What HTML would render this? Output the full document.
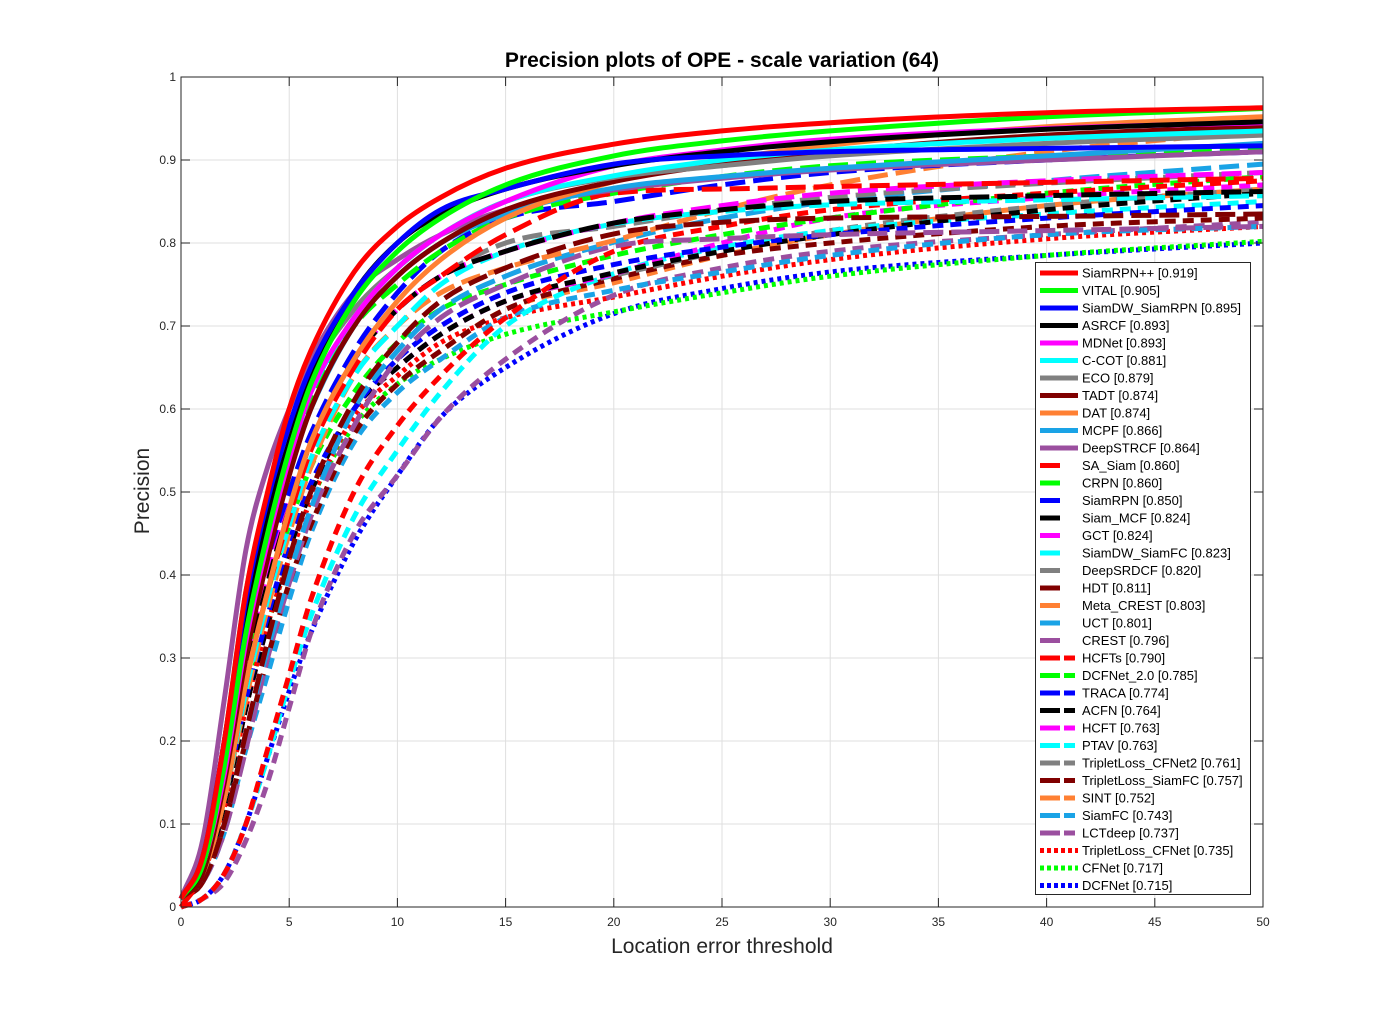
<!DOCTYPE html>
<html><head><meta charset="utf-8"><style>
html,body{margin:0;padding:0;background:#fff;}
svg{display:block;font-family:"Liberation Sans",Arial,sans-serif;}
</style></head><body>
<svg id="chart" width="1397" height="1019" viewBox="0 0 1397 1019">
<rect x="0" y="0" width="1397" height="1019" fill="#fff"/>
<rect x="181" y="77" width="1082" height="830" fill="#fff"/>
<g id="grid"></g>
<g id="series"></g>
<rect x="181" y="77" width="1082" height="830" fill="none" stroke="#262626" stroke-width="1"/>
<g id="ticks"></g>
<text x="722" y="67" text-anchor="middle" font-size="21" font-weight="bold" fill="#000">Precision plots of OPE - scale variation (64)</text>
<text x="722" y="953" text-anchor="middle" font-size="21" fill="#262626">Location error threshold</text>
<text transform="translate(149,491) rotate(-90)" text-anchor="middle" font-size="21" fill="#262626">Precision</text>
<g id="legend"></g>
</svg>
<script>
const thresholds=[0,1,2,3,4,5,6,8,10,12,15,20,25,30,40,50];
const xTicks=[0,5,10,15,20,25,30,35,40,45,50];
const yTicks=[0,0.1,0.2,0.3,0.4,0.5,0.6,0.7,0.8,0.9,1];
const yTickLabels=["0","0.1","0.2","0.3","0.4","0.5","0.6","0.7","0.8","0.9","1"];
const names=["SiamRPN++ [0.919]","VITAL [0.905]","SiamDW_SiamRPN [0.895]","ASRCF [0.893]","MDNet [0.893]","C-COT [0.881]","ECO [0.879]","TADT [0.874]","DAT [0.874]","MCPF [0.866]","DeepSTRCF [0.864]","SA_Siam [0.860]","CRPN [0.860]","SiamRPN [0.850]","Siam_MCF [0.824]","GCT [0.824]","SiamDW_SiamFC [0.823]","DeepSRDCF [0.820]","HDT [0.811]","Meta_CREST [0.803]","UCT [0.801]","CREST [0.796]","HCFTs [0.790]","DCFNet_2.0 [0.785]","TRACA [0.774]","ACFN [0.764]","HCFT [0.763]","PTAV [0.763]","TripletLoss_CFNet2 [0.761]","TripletLoss_SiamFC [0.757]","SINT [0.752]","SiamFC [0.743]","LCTdeep [0.737]","TripletLoss_CFNet [0.735]","CFNet [0.717]","DCFNet [0.715]"];
const s01=[.01,.06,.2,.38,.5,.6,.67,.765,.82,.855,.89,.919,.935,.945,.957,.963];
const s02=[.01,.05,.17,.33,.45,.55,.63,.73,.79,.83,.87,.905,.923,.935,.952,.962];
const s03=[.01,.06,.2,.37,.49,.58,.65,.74,.8,.84,.865,.895,.905,.91,.914,.917];
const s04=[.01,.05,.18,.35,.47,.56,.64,.74,.8,.835,.865,.893,.91,.922,.937,.946];
const s05=[.01,.05,.16,.32,.44,.54,.62,.71,.77,.81,.85,.893,.912,.925,.938,.945];
const s06=[.01,.05,.17,.33,.45,.55,.62,.71,.77,.81,.85,.881,.9,.912,.926,.935];
const s07=[.01,.06,.2,.38,.49,.57,.64,.72,.77,.81,.85,.879,.893,.905,.92,.93];
const s08=[.01,.04,.15,.3,.42,.52,.6,.7,.76,.8,.84,.874,.895,.91,.93,.94];
const s09=[.01,.04,.13,.27,.38,.48,.56,.66,.73,.78,.83,.874,.9,.918,.94,.952];
const s10=[.01,.05,.16,.31,.43,.53,.6,.7,.76,.8,.835,.866,.88,.89,.905,.92];
const s11=[.01,.08,.25,.43,.53,.6,.66,.74,.78,.81,.84,.864,.878,.888,.9,.91];
const s12=[0,.04,.13,.27,.38,.47,.55,.65,.72,.76,.81,.86,.865,.868,.873,.878];
const s13=[.01,.05,.17,.33,.45,.54,.61,.7,.75,.79,.83,.86,.88,.893,.905,.915];
const s14=[.01,.05,.16,.31,.42,.5,.57,.67,.74,.79,.83,.85,.87,.885,.9,.91];
const s15=[.01,.04,.14,.28,.39,.48,.56,.66,.72,.76,.79,.824,.84,.85,.857,.862];
const s16=[.01,.05,.15,.29,.4,.49,.56,.66,.72,.76,.79,.824,.845,.86,.875,.885];
const s17=[.01,.04,.13,.26,.37,.46,.54,.64,.7,.75,.79,.823,.838,.846,.852,.857];
const s18=[.01,.05,.17,.32,.42,.5,.57,.66,.72,.76,.8,.82,.84,.855,.872,.885];
const s19=[.01,.03,.1,.21,.32,.42,.5,.61,.68,.73,.77,.811,.825,.83,.832,.835];
const s20=[.01,.04,.13,.25,.36,.45,.53,.64,.7,.74,.77,.803,.84,.87,.91,.935];
const s21=[.01,.03,.1,.21,.31,.4,.48,.6,.67,.72,.76,.801,.83,.85,.875,.895];
const s22=[.01,.03,.09,.19,.3,.39,.47,.58,.66,.71,.75,.796,.805,.81,.815,.82];
const s23=[0,.01,.04,.1,.19,.28,.37,.5,.58,.64,.71,.79,.82,.84,.86,.875];
const s24=[.01,.05,.15,.28,.38,.46,.53,.62,.68,.72,.75,.785,.81,.83,.86,.88];
const s25=[.01,.04,.13,.25,.35,.44,.51,.6,.66,.7,.74,.774,.795,.81,.83,.845];
const s26=[.01,.04,.12,.24,.34,.43,.5,.6,.65,.69,.73,.764,.79,.81,.84,.86];
const s27=[.01,.04,.12,.24,.34,.43,.5,.6,.65,.69,.73,.763,.8,.83,.855,.87];
const s28=[0,.01,.04,.1,.18,.27,.35,.47,.55,.62,.7,.763,.795,.815,.835,.85];
const s29=[.01,.04,.12,.24,.34,.43,.5,.6,.65,.69,.73,.761,.79,.815,.845,.865];
const s30=[.01,.03,.1,.2,.3,.39,.46,.57,.63,.67,.72,.757,.785,.8,.82,.83];
const s31=[.01,.03,.1,.2,.3,.39,.46,.57,.63,.67,.72,.752,.785,.81,.845,.865];
const s32=[.01,.03,.09,.19,.28,.37,.45,.56,.62,.66,.71,.743,.765,.785,.81,.82];
const s33=[0,.01,.03,.08,.15,.24,.33,.45,.52,.59,.66,.737,.77,.79,.81,.825];
const s34=[.01,.04,.12,.24,.34,.42,.49,.59,.64,.68,.71,.735,.76,.78,.805,.82];
const s35=[.01,.04,.13,.25,.34,.42,.49,.58,.63,.66,.69,.717,.74,.76,.785,.802];
const s36=[0,.01,.04,.1,.18,.26,.33,.44,.52,.59,.65,.715,.745,.765,.785,.80];
const seriesValues=[s01,s02,s03,s04,s05,s06,s07,s08,s09,s10,s11,s12,s13,s14,s15,s16,s17,s18,s19,s20,s21,s22,s23,s24,s25,s26,s27,s28,s29,s30,s31,s32,s33,s34,s35,s36];

const palette=["#ff0000","#00ff00","#0000ff","#000000","#ff00ff","#00ffff","#808080","#800000","#ff8033","#1aa3e6","#9b4f9f"];
const X0=181,X1=1263,Y0=907,Y1=77;
const xs=v=>X0+(v/50)*(X1-X0);
const ys=v=>Y0-v*(Y0-Y1);
const NS="http://www.w3.org/2000/svg";
function mk(tag,attrs,parent){const e=document.createElementNS(NS,tag);for(const k in attrs)e.setAttribute(k,attrs[k]);parent.appendChild(e);return e;}

const grid=document.getElementById('grid'),ticks=document.getElementById('ticks');
xTicks.forEach((t,i)=>{
  const gl=mk('line',{x1:xs(t),x2:xs(t),y1:Y1,y2:Y0,stroke:'#dfdfdf','stroke-width':1},grid);
  
  
  const tk=mk('path',{d:`M${xs(t)},${Y0}v-9M${xs(t)},${Y1}v9`,stroke:'#262626','stroke-width':1},ticks);
  
  
  const tl=mk('text',{x:xs(t),y:926,'text-anchor':'middle','font-size':12,fill:'#262626'},ticks);
  tl.textContent=String(t);
  
  
});
yTicks.forEach((t,i)=>{
  const gl=mk('line',{x1:X0,x2:X1,y1:ys(t),y2:ys(t),stroke:'#dfdfdf','stroke-width':1},grid);
  
  
  const tk=mk('path',{d:`M${X0},${ys(t)}h9M${X1},${ys(t)}h-9`,stroke:'#262626','stroke-width':1},ticks);
  
  
  const tl=mk('text',{x:176,y:ys(t)+4,'text-anchor':'end','font-size':12,fill:'#262626'},ticks);
  tl.textContent=yTickLabels[i];
  
  
});

function styleFor(i){
  if(i<11) return {dash:null,legendDash:null};
  if(i<22) return {dash:'20,8',legendDash:'20,40'};
  if(i<33) return {dash:'11,7',legendDash:'20,4,11,40'};
  return {dash:'4,4',legendDash:'4,3'};
}
function monotonePath(xv,yv){
  const n=xv.length,d=[],m=[];
  for(let i=0;i<n-1;i++)d.push((yv[i+1]-yv[i])/(xv[i+1]-xv[i]));
  m[0]=d[0];m[n-1]=d[n-2];
  for(let i=1;i<n-1;i++){m[i]=(d[i-1]*d[i]<=0)?0:(d[i-1]+d[i])/2;}
  for(let i=0;i<n-1;i++){if(d[i]===0){m[i]=0;m[i+1]=0;continue;}const a=m[i]/d[i],b=m[i+1]/d[i],s=a*a+b*b;if(s>9){const t=3/Math.sqrt(s);m[i]=t*a*d[i];m[i+1]=t*b*d[i];}}
  let p=`M${xs(xv[0]).toFixed(1)},${ys(yv[0]).toFixed(1)}`;
  for(let i=0;i<n-1;i++){const h=xv[i+1]-xv[i];
    const c1x=xv[i]+h/3,c1y=yv[i]+m[i]*h/3,c2x=xv[i+1]-h/3,c2y=yv[i+1]-m[i+1]*h/3;
    p+=`C${xs(c1x).toFixed(1)},${ys(c1y).toFixed(1)} ${xs(c2x).toFixed(1)},${ys(c2y).toFixed(1)} ${xs(xv[i+1]).toFixed(1)},${ys(yv[i+1]).toFixed(1)}`;}
  return p;
}
const sg=document.getElementById('series');
for(let i=seriesValues.length-1;i>=0;i--){
  const st=styleFor(i);
  const a={d:monotonePath(thresholds,seriesValues[i]),fill:'none',stroke:palette[i%11],'stroke-width':5};
  if(st.dash)a['stroke-dasharray']=st.dash;
  const p=mk('path',a,sg);
  
  
}
const lg=document.getElementById('legend');
const box=mk('rect',{x:1035.5,y:262.5,width:215,height:632,fill:'#fff',stroke:'#262626','stroke-width':1},lg);


names.forEach((nm,i)=>{
  const y=273+i*17.5,st=styleFor(i);
  const g=mk('g',{},lg);
  
  
  const a={x1:1040,x2:1078,y1:y,y2:y,stroke:palette[i%11],'stroke-width':5};
  if(st.legendDash)a['stroke-dasharray']=st.legendDash;
  const ln=mk('line',a,g);
  
  
  const t=mk('text',{x:1082,y:y+4.5,'font-size':13,fill:'#000'},g);
  t.textContent=nm;
  
  
});
</script>
</body></html>
